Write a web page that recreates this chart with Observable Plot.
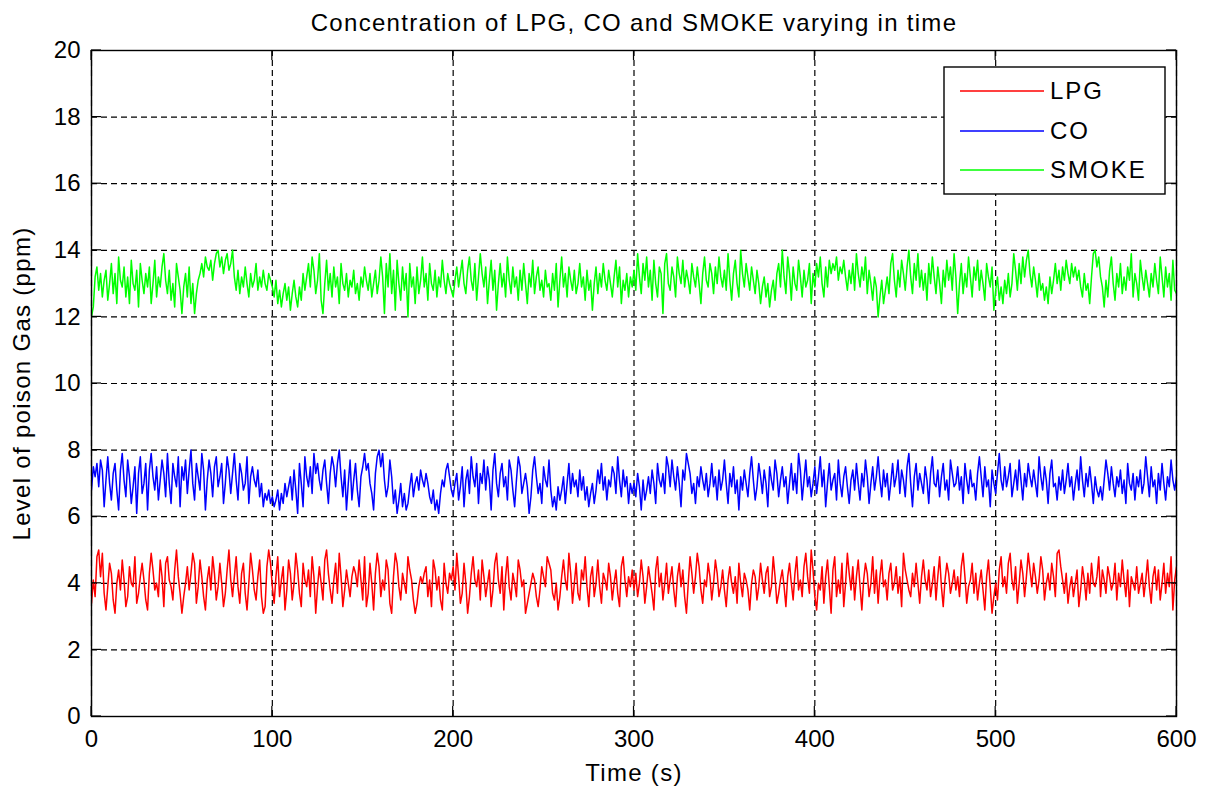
<!DOCTYPE html>
<html><head><meta charset="utf-8">
<script src="https://cdn.jsdelivr.net/npm/d3@7"></script>
<script src="https://cdn.jsdelivr.net/npm/@observablehq/plot@0.6"></script>
<style>
body{margin:0;background:#fff;}
#chart{width:1211px;height:789px;}
</style></head><body><div id="chart"></div>
<script>
// LPG concentration (ppm), one sample per second, t = 0..600 s
const lpg = [
3.4,4.1,3.6,4.8,5.0,4.2,4.9,3.7,3.2,3.9,4.6,4.3,3.5,3.1,4.0,4.4,3.8,4.7,4.1,3.3,
3.6,4.5,4.0,3.9,4.8,3.4,3.7,4.2,4.6,4.1,3.5,3.2,4.3,4.9,4.4,3.8,4.0,3.6,4.7,4.2,
3.3,4.6,4.8,4.1,3.9,3.5,4.4,5.0,4.2,3.7,3.1,3.6,4.0,4.5,3.8,4.3,4.9,4.6,3.4,3.9,
4.7,4.2,3.6,3.2,4.1,4.5,3.8,4.8,4.3,3.5,3.9,4.6,4.0,3.3,3.7,4.4,5.0,4.1,3.6,4.2,
4.8,3.9,3.4,4.3,4.6,3.7,3.2,4.0,4.9,4.4,3.8,3.5,4.2,4.7,3.6,3.1,3.3,4.5,5.0,4.6,
3.9,3.4,4.2,4.8,3.6,4.1,4.5,3.2,3.8,4.7,4.3,3.5,4.0,4.9,4.4,3.7,3.3,4.6,4.1,3.9,
4.4,3.6,4.8,4.2,3.1,3.9,4.5,4.0,3.5,4.7,5.0,4.3,3.8,3.4,4.1,4.6,3.7,4.9,4.2,3.3,
3.8,4.4,4.0,3.6,4.2,4.5,4.3,3.9,4.7,4.1,3.5,4.8,3.3,3.7,4.6,4.0,3.2,4.3,4.9,4.5,
3.6,4.1,3.8,4.7,4.4,3.4,3.1,4.2,4.9,4.6,3.9,3.5,4.3,4.0,3.7,4.8,4.4,4.1,3.5,3.1,
3.4,3.9,4.2,4.0,4.3,4.5,3.6,4.1,3.3,4.7,4.4,3.8,4.2,3.5,3.2,4.6,4.0,3.7,4.3,4.1,
4.5,3.8,4.9,4.2,3.4,3.7,4.6,4.0,3.1,3.6,4.3,4.8,4.1,3.9,4.4,3.5,4.7,4.2,3.6,4.0,
4.4,3.3,3.8,4.6,4.9,4.1,3.7,4.5,3.2,4.2,4.8,3.9,3.5,4.3,4.0,3.6,4.7,4.4,3.9,4.1,
3.1,3.4,3.7,4.0,4.3,4.1,3.6,3.3,3.8,4.5,4.2,3.9,4.8,4.6,4.4,3.7,3.5,4.0,3.2,3.6,
4.2,4.7,4.1,3.8,4.9,4.3,3.4,4.0,4.6,3.7,3.5,4.4,4.1,4.8,3.9,3.3,4.2,4.5,3.6,4.0,
4.7,3.9,3.4,4.3,4.1,3.8,4.6,4.2,3.5,4.0,4.4,3.7,3.3,4.5,4.8,4.1,3.6,4.2,3.9,4.4,
3.8,4.3,3.6,4.0,4.7,4.2,3.4,3.9,4.5,4.1,3.7,3.2,4.4,4.8,3.9,4.3,3.5,4.0,4.6,3.7,
4.1,4.5,3.8,3.3,4.2,4.6,3.9,4.4,3.6,3.1,4.0,4.8,4.3,3.7,4.2,4.9,4.5,3.8,3.4,4.1,
3.9,4.6,4.2,3.5,4.0,4.7,4.3,3.6,3.9,4.4,3.8,3.3,4.1,4.5,4.0,3.7,4.2,3.4,4.6,4.0,
3.6,4.3,4.1,3.8,3.2,4.0,4.4,4.2,3.5,3.9,4.6,4.1,3.7,4.3,4.5,3.6,3.9,4.8,4.2,3.4,
3.7,4.1,4.4,3.9,3.3,4.2,4.6,4.0,3.5,4.3,4.8,3.8,4.1,3.6,4.5,4.9,4.2,3.7,5.0,4.4,
3.6,3.2,4.0,3.8,4.5,3.4,4.2,4.7,3.9,3.1,4.4,4.8,3.6,4.1,3.7,4.6,3.3,4.0,4.9,4.3,
3.8,4.5,3.5,4.2,4.7,3.9,3.2,4.1,4.6,4.3,3.6,4.0,4.8,3.7,4.4,3.4,4.2,4.7,3.9,4.1,
3.5,4.3,4.6,3.8,4.0,4.5,3.7,4.2,3.3,4.9,4.4,4.1,3.8,3.6,4.3,3.9,4.6,4.0,3.4,4.2,
4.7,4.1,3.8,4.4,3.6,4.0,4.5,3.5,4.2,4.8,3.9,3.3,4.1,4.6,4.3,3.7,4.0,4.4,3.8,4.2,
3.6,4.5,4.9,4.2,3.4,3.9,4.1,4.6,3.7,4.3,3.5,4.0,4.4,3.8,3.2,4.2,4.7,3.9,3.1,3.6,
4.0,3.5,4.4,4.8,3.9,4.2,3.7,4.6,4.9,4.1,3.8,4.5,3.4,4.0,4.7,4.3,3.6,4.2,4.9,4.4,
3.9,4.6,4.2,3.7,4.1,4.8,4.4,3.5,4.0,4.3,3.8,4.6,4.2,3.6,4.9,5.0,4.5,4.1,3.7,4.3,
3.4,3.9,4.2,3.6,4.0,4.4,3.3,3.8,4.5,4.1,3.5,4.3,3.7,4.6,4.0,3.9,4.2,4.8,3.6,4.4,
4.1,3.7,4.5,4.2,3.8,4.0,4.6,3.5,4.3,3.9,4.7,4.1,3.6,4.4,3.3,4.2,4.0,3.8,4.5,3.7,
4.0,4.3,3.6,4.1,4.7,3.9,3.4,4.2,4.5,3.8,4.4,3.5,4.0,4.6,3.7,4.3,3.9,4.8,3.2,4.1,
4.5];
// CO concentration (ppm)
const co = [
6.8,7.5,7.2,7.6,6.9,7.7,7.4,6.3,7.1,7.8,7.0,6.5,7.3,7.6,6.8,6.2,7.4,7.9,7.1,6.6,
7.7,7.2,6.4,6.9,7.5,6.1,7.3,7.8,6.7,7.0,7.6,6.2,7.4,7.9,7.2,6.8,7.5,6.5,7.1,7.7,
7.3,6.6,7.9,7.0,6.4,7.6,7.2,6.9,7.8,6.3,7.5,7.1,7.7,6.7,7.4,8.0,7.0,6.5,7.6,7.2,
6.8,7.9,7.4,6.2,7.1,7.7,7.3,6.6,7.5,7.8,6.9,7.2,7.6,6.4,7.0,7.8,7.4,6.7,7.3,7.9,
7.1,6.5,7.6,7.3,6.8,7.0,7.8,6.4,7.2,7.5,7.1,6.9,7.4,6.6,7.0,6.3,6.7,6.5,6.8,6.4,
6.6,6.3,6.5,6.8,6.2,6.7,6.4,7.0,6.6,6.9,7.2,6.5,7.4,6.8,6.1,7.6,7.0,6.3,7.8,7.2,
6.9,7.5,6.7,7.9,7.3,7.6,7.1,6.8,7.4,7.7,7.0,6.4,7.3,7.8,7.5,6.9,7.6,8.0,7.2,6.6,
7.4,6.2,7.0,7.7,6.5,7.1,7.6,6.8,6.3,7.2,7.5,7.9,7.4,7.6,7.0,6.7,6.2,7.3,7.8,8.0,
7.5,7.9,7.1,6.6,6.9,7.7,7.2,6.4,6.8,6.1,6.5,7.0,6.3,6.7,6.2,6.4,6.9,7.3,6.6,7.0,
7.2,6.8,7.4,7.1,6.9,7.3,7.0,6.6,6.4,6.8,6.2,6.5,6.1,6.7,7.1,6.9,7.4,7.6,7.2,6.8,
6.6,7.0,7.3,6.5,6.9,7.5,6.3,7.1,7.4,6.7,7.8,7.2,6.9,7.6,6.4,7.3,7.0,7.7,6.8,7.5,
7.1,6.2,7.4,7.9,7.0,6.6,7.3,7.6,6.9,7.2,6.5,7.7,7.4,6.8,6.3,7.1,7.8,7.5,6.7,7.0,
7.3,6.9,6.1,6.6,7.4,7.8,7.2,6.7,7.0,6.4,7.5,7.1,6.9,7.7,6.8,6.3,6.6,6.2,6.9,6.5,
6.8,7.2,6.4,7.0,7.6,6.7,7.3,6.9,7.1,6.6,7.4,6.8,7.2,6.5,6.9,6.3,6.7,7.0,6.4,6.8,
7.4,7.0,7.6,6.8,7.2,6.5,7.1,6.9,7.5,7.3,6.7,7.8,7.1,6.6,7.4,6.9,7.2,6.4,7.0,6.7,
7.0,6.6,7.3,6.9,6.2,7.1,6.5,6.8,7.2,6.7,7.4,7.0,6.4,7.6,7.1,6.9,7.3,6.7,7.8,7.5,
6.9,7.7,7.2,6.8,7.5,7.0,6.3,7.4,7.1,7.9,7.6,7.3,6.7,7.0,6.4,7.2,6.9,7.5,7.1,6.8,
7.3,6.6,7.0,7.6,6.9,7.2,6.5,7.4,6.8,7.1,7.7,7.0,6.4,7.3,6.9,7.5,6.7,7.1,6.2,7.2,
6.8,7.4,7.0,6.6,7.3,7.8,7.1,6.5,6.9,7.6,7.2,6.7,7.4,7.0,6.3,7.5,7.1,6.8,7.7,7.3,
6.6,7.1,7.5,6.9,7.2,6.4,7.0,7.6,6.8,7.3,6.7,7.9,7.4,6.5,7.1,7.7,6.9,7.2,6.6,7.0,
7.5,6.7,7.2,7.8,6.9,7.4,6.3,7.0,7.6,6.8,7.1,7.3,6.5,7.7,7.0,6.6,7.2,7.5,6.9,6.4,
7.1,7.4,6.8,7.6,7.0,6.5,7.3,6.9,7.7,7.2,6.4,7.0,7.5,6.8,7.2,7.8,7.1,6.6,7.4,6.9,
7.3,6.5,7.0,7.6,6.9,7.2,7.7,6.7,7.4,7.1,6.6,7.5,7.9,7.0,6.3,7.2,7.6,6.8,7.3,7.0,
6.7,7.5,7.1,6.4,7.3,7.8,7.0,6.9,7.4,6.6,7.2,7.6,6.8,7.1,6.5,7.7,7.3,6.9,7.0,7.5,
6.8,7.2,6.4,7.6,7.1,6.7,7.4,6.9,7.0,6.5,7.3,7.8,7.2,6.6,7.5,6.9,7.1,6.3,7.4,7.0,
6.7,7.3,7.9,7.1,6.8,7.5,6.9,7.2,7.6,6.6,7.0,7.4,6.8,7.7,7.1,6.5,7.3,6.9,7.6,7.2,
6.9,7.4,7.0,6.6,7.8,7.2,6.8,7.5,7.1,6.4,7.3,7.7,6.9,7.0,6.5,7.2,6.8,7.4,6.7,7.1,
7.6,6.9,7.2,6.5,7.0,7.4,6.8,7.8,7.1,6.6,7.3,6.9,7.5,7.0,6.4,7.2,6.8,6.6,6.9,6.5,
7.1,7.7,7.3,6.8,7.5,7.0,6.6,7.2,6.9,7.4,6.7,7.1,6.4,7.6,7.0,6.8,7.3,6.5,7.2,6.9,
7.4,6.7,7.0,7.8,7.2,6.6,7.5,6.9,7.1,6.4,7.3,6.8,7.6,7.0,6.5,7.2,6.9,7.7,7.1,6.8,
7.2];
// SMOKE concentration (ppm)
const smoke = [
12.0,12.3,13.2,13.5,12.8,13.3,12.6,13.1,13.4,12.5,13.0,13.6,12.7,13.3,12.4,13.8,13.1,12.9,13.5,12.6,
13.2,12.4,13.7,13.0,12.8,13.4,12.3,13.6,13.1,12.7,13.3,12.9,13.5,12.4,13.0,13.7,12.6,13.2,12.9,13.5,
13.9,13.1,12.7,13.4,12.5,13.0,12.3,13.6,13.2,12.8,12.1,12.9,13.3,12.6,13.5,12.4,13.0,12.1,12.7,13.1,
13.3,13.6,13.2,13.8,13.5,13.4,13.7,13.1,13.6,13.9,14.0,13.5,13.8,13.3,13.7,13.9,13.4,13.6,14.0,13.2,
12.8,13.4,12.7,13.2,12.9,13.5,13.0,12.6,13.3,12.9,13.1,13.6,12.8,13.2,12.9,13.4,13.0,12.8,13.3,13.1,
12.9,12.6,13.1,12.4,12.8,12.3,12.7,13.0,12.5,12.9,12.2,12.7,13.1,12.6,12.3,12.9,12.5,13.3,12.8,13.2,
13.6,12.9,13.8,13.4,12.7,13.1,13.9,12.5,12.1,13.0,13.7,12.8,13.3,12.6,13.5,12.9,13.2,12.4,13.6,13.0,
12.8,13.3,12.6,13.1,12.9,13.4,12.7,13.0,12.5,13.2,12.9,13.5,13.1,12.8,13.3,12.6,13.0,13.4,12.7,13.1,
13.8,13.2,12.1,13.6,12.9,13.9,12.7,13.4,12.2,13.7,13.0,12.5,13.5,12.8,13.3,12.0,13.6,12.9,13.2,12.4,
13.5,12.7,13.1,13.8,12.9,13.3,12.5,13.6,13.0,12.8,13.4,12.6,13.2,12.9,13.7,13.1,12.7,13.3,13.0,12.8,
12.6,13.1,13.5,12.9,13.3,13.7,13.0,12.7,13.4,13.8,13.1,12.8,13.6,12.5,13.2,13.9,13.3,12.9,13.5,12.4,
13.1,13.7,12.8,13.4,12.2,13.0,13.6,12.9,13.3,12.6,13.8,13.1,12.7,13.5,12.9,13.2,12.5,13.4,12.8,13.6,
13.0,12.4,13.3,12.9,13.7,12.7,13.2,13.5,12.8,13.1,12.6,13.4,12.9,13.0,12.5,13.3,12.8,13.6,12.3,13.1,
13.8,12.9,13.3,12.6,13.5,13.1,12.8,13.4,12.7,13.0,13.6,12.9,13.2,12.5,13.4,12.8,13.1,12.2,13.0,13.5,
12.7,13.3,12.9,13.6,13.1,12.8,13.4,13.0,12.6,13.2,13.7,12.9,13.5,12.4,13.1,12.8,13.3,12.6,13.2,12.9,
13.4,12.8,13.9,13.2,12.7,13.6,13.1,13.8,12.9,13.4,12.5,13.7,13.0,12.6,13.5,13.3,12.1,13.6,13.9,13.0,
12.8,13.5,13.2,12.6,13.8,13.3,13.0,13.7,12.9,13.4,13.1,12.7,13.6,13.2,12.9,13.5,13.0,12.4,13.3,13.8,
13.1,12.9,13.6,13.3,12.7,13.5,13.0,13.8,13.2,12.9,13.4,12.8,13.9,13.1,12.5,13.3,13.7,13.0,12.6,14.0,
13.3,12.9,13.6,13.2,12.8,13.5,13.1,12.7,13.4,13.0,12.4,12.9,13.2,12.6,13.0,12.3,12.8,13.1,12.5,13.3,
13.6,12.9,14.0,13.2,12.7,13.8,13.3,12.5,13.5,13.0,12.8,13.7,13.2,12.6,13.4,12.9,13.1,13.6,12.4,13.3,
12.9,13.6,13.2,13.8,13.0,12.6,13.5,12.9,13.7,13.3,13.6,13.4,13.8,13.1,13.5,13.3,13.7,13.2,12.8,13.4,
13.0,13.6,12.8,13.9,13.3,12.9,13.5,13.1,13.8,12.7,13.4,13.0,12.5,13.2,12.9,12.0,12.6,13.1,12.4,12.8,
13.2,12.7,13.6,13.9,13.1,12.6,13.4,12.9,13.7,13.3,12.8,13.5,14.0,13.2,12.7,13.6,13.1,13.9,12.9,13.4,
12.8,13.3,12.5,13.6,13.0,13.8,13.2,12.7,13.5,13.0,12.4,13.4,12.9,13.7,13.1,13.5,12.8,13.9,13.2,12.1,
13.0,13.6,12.7,13.3,12.9,13.8,13.2,12.6,13.5,13.1,13.7,12.8,13.4,13.0,12.5,13.6,13.2,12.9,13.5,12.2,
12.8,13.2,12.5,12.9,12.4,13.1,12.7,13.3,12.6,13.0,13.9,13.4,12.8,13.6,13.0,13.8,13.2,13.7,14.0,13.3,
12.9,13.5,13.1,12.6,13.3,12.8,13.0,12.5,12.9,12.4,13.2,12.7,13.1,13.6,13.0,13.4,12.8,13.5,13.1,13.7,
13.3,13.0,13.6,13.2,13.5,13.1,13.4,12.9,12.6,13.3,12.8,13.0,12.4,13.2,13.9,14.0,13.5,13.8,13.2,12.9,
12.3,13.1,12.6,13.4,13.8,13.0,12.5,13.3,12.9,13.6,12.7,13.2,12.8,13.5,13.1,13.9,12.6,13.3,13.0,12.5,
13.7,13.2,12.8,13.4,13.0,12.6,13.3,12.9,13.6,13.1,12.7,13.8,13.2,12.6,13.5,12.9,13.3,12.5,13.7,12.8,
12.7];

const seriesNames = ["LPG", "CO", "SMOKE"];
const seriesColors = ["#ff0000", "#0000ff", "#00ff00"];
const xTicks = [0, 100, 200, 300, 400, 500, 600];
const yTicks = [0, 2, 4, 6, 8, 10, 12, 14, 16, 18, 20];
const titleText = "Concentration of LPG, CO and SMOKE varying in time";
const xLabelText = "Time (s)";
const yLabelText = "Level of poison Gas (ppm)";

const rows = [];
[lpg, co, smoke].forEach((arr, k) => arr.forEach((v, i) => rows.push({t: i, v, s: seriesNames[k]})));

const FONT = "'Liberation Sans', Arial, Helvetica, sans-serif";
const FS = 24;
const LS = "1.3px";

const chart = Plot.plot({
  width: 1211, height: 789,
  marginLeft: 91, marginRight: 35, marginTop: 50, marginBottom: 73,
  style: {fontFamily: FONT, fontSize: FS + "px", background: "#fff", color: "#000", overflow: "visible"},
  x: {domain: [0, 600], label: null},
  y: {domain: [0, 20], label: null},
  marks: [
    Plot.gridX(xTicks, {stroke: "#000", strokeOpacity: 1, strokeWidth: 1.2, strokeDasharray: "6,4"}),
    Plot.gridY(yTicks, {stroke: "#000", strokeOpacity: 1, strokeWidth: 1.2, strokeDasharray: "6,4"}),
    Plot.line(rows, {x: "t", y: "v", z: "s", stroke: d => seriesColors[seriesNames.indexOf(d.s)], strokeWidth: 1.5, clip: true}),
    Plot.axisX(xTicks, {tickSize: 0, tickPadding: 13, fontSize: FS, tickFormat: d => String(d), label: null}),
    Plot.axisY(yTicks, {tickSize: 0, tickPadding: 11, fontSize: FS, tickFormat: d => String(d), label: null}),
    Plot.frame({stroke: "#000", strokeWidth: 1.4}),
    Plot.text([titleText], {text: d => d, frameAnchor: "top", lineAnchor: "middle", textAnchor: "middle", dy: -27, fontSize: FS, fill: "#000"}),
    Plot.text([xLabelText], {text: d => d, frameAnchor: "bottom", lineAnchor: "middle", textAnchor: "middle", dy: 57, fontSize: FS, fill: "#000"}),
    Plot.text([yLabelText], {text: d => d, frameAnchor: "left", lineAnchor: "middle", textAnchor: "middle", dx: -69, rotate: -90, fontSize: FS, fill: "#000"})
  ]
});

document.getElementById("chart").appendChild(chart);

// letter spacing on title and axis labels to match the original's wider text
d3.select(chart).selectAll("text").filter(function() {
  const t = this.textContent;
  return t === titleText || t === xLabelText || t === yLabelText;
}).attr("letter-spacing", LS);

// inward tick marks on all four sides (MATLAB style) and legend box
const sx = chart.scale("x"), sy = chart.scale("y");
const svg = d3.select(chart);
const x0 = sx.apply(0), x1 = sx.apply(600), y0 = sy.apply(0), y1 = sy.apply(20);
const tg = svg.append("g").attr("stroke", "#000").attr("stroke-width", 1.2);
xTicks.forEach(t => {
  const x = sx.apply(t);
  tg.append("line").attr("x1", x).attr("x2", x).attr("y1", y0).attr("y2", y0 - 10);
  tg.append("line").attr("x1", x).attr("x2", x).attr("y1", y1).attr("y2", y1 + 10);
});
yTicks.forEach(t => {
  const y = sy.apply(t);
  tg.append("line").attr("x1", x0).attr("x2", x0 + 10).attr("y1", y).attr("y2", y);
  tg.append("line").attr("x1", x1).attr("x2", x1 - 10).attr("y1", y).attr("y2", y);
});

const lg = svg.append("g").attr("font-family", FONT).attr("font-size", FS);
lg.append("rect").attr("x", x1 - 232).attr("y", y1 + 17).attr("width", 221).attr("height", 127)
  .attr("fill", "#fff").attr("stroke", "#000").attr("stroke-width", 1.4);
const legendY = [91, 131, 170];
seriesNames.forEach((name, i) => {
  lg.append("line").attr("x1", x1 - 216).attr("x2", x1 - 132).attr("y1", legendY[i]).attr("y2", legendY[i])
    .attr("stroke", seriesColors[i]).attr("stroke-width", 1.5);
  lg.append("text").attr("x", x1 - 126).attr("y", legendY[i] + 2).attr("dominant-baseline", "middle")
    .attr("text-anchor", "start").attr("letter-spacing", "2px").attr("fill", "#000").text(name);
});
</script>
</body></html>
